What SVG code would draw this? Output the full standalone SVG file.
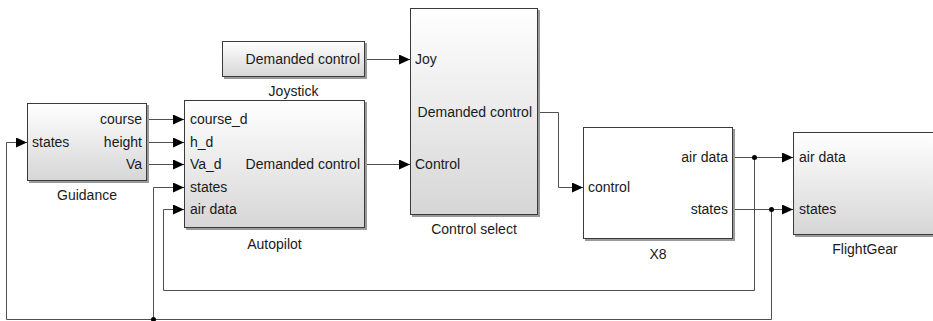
<svg xmlns="http://www.w3.org/2000/svg" width="933" height="321" viewBox="0 0 933 321">
  <defs>
    <linearGradient id="blockFill" x1="0" y1="0" x2="0" y2="1">
      <stop offset="0" stop-color="#ffffff"/>
      <stop offset="1" stop-color="#d6d6d6"/>
    </linearGradient>
    <marker id="arrow" markerUnits="userSpaceOnUse" markerWidth="11" markerHeight="10" refX="11" refY="5" orient="auto">
      <path d="M0,0 L11,5 L0,10 z" fill="#000"/>
    </marker>
  </defs>
  <style>
    .shadow { fill: #9a9a9a; }
    .block { fill: url(#blockFill); stroke: #3a3a3a; stroke-width: 1; }
    .plain { fill: #ffffff; stroke: #3a3a3a; stroke-width: 1; }
    text { font-family: "Liberation Sans", Arial, sans-serif; font-size: 14px; fill: #1a1a1a; }
    .r { text-anchor: end; }
    .c { text-anchor: middle; }
    .wire { fill: none; stroke: #505050; stroke-width: 1; }
    .arr { marker-end: url(#arrow); }
    .dot { fill: #000; }
  </style>
  <rect width="933" height="321" fill="#ffffff"/>

  <!-- signal lines -->
  <g id="connectors">
    <path class="wire arr" d="M147.5,119.5 H184"/>
    <path class="wire arr" d="M147.5,142.5 H184"/>
    <path class="wire arr" d="M147.5,164.5 H184"/>
    <path class="wire arr" d="M365.5,59.5 H410"/>
    <path class="wire arr" d="M365.5,164.5 H410"/>
    <path class="wire arr" d="M538.5,112.5 H558.5 V187.5 H583"/>
    <path class="wire arr" d="M733.5,157.5 H793"/>
    <path class="wire arr" d="M733.5,209.5 H793"/>
    <!-- air data feedback to autopilot -->
    <path class="wire arr" d="M754.5,157.5 V290.5 H163.5 V209.5 H184"/>
    <!-- states feedback to guidance and autopilot -->
    <path class="wire arr" d="M771.5,209.5 V319.5 H6.5 V142.5 H27"/>
    <path class="wire arr" d="M153.5,319.5 V187.5 H184"/>
    <circle class="dot" cx="754.5" cy="157.5" r="2.5"/>
    <circle class="dot" cx="771.5" cy="209.5" r="2.5"/>
    <circle class="dot" cx="153.5" cy="319.5" r="2.5"/>
  </g>

  <g id="guidance">
    <rect class="shadow" x="29" y="105" width="120" height="78"/>
    <rect class="block" x="27.5" y="103.5" width="119" height="77"/>
    <text x="32" y="147">states</text>
    <text class="r" x="142" y="124">course</text>
    <text class="r" x="142" y="147">height</text>
    <text class="r" x="142" y="169">Va</text>
    <text class="c" x="87" y="200">Guidance</text>
  </g>

  <g id="autopilot">
    <rect class="shadow" x="186" y="102" width="181" height="128"/>
    <rect class="block" x="184.5" y="100.5" width="180" height="127"/>
    <text x="190" y="124">course_d</text>
    <text x="190" y="147">h_d</text>
    <text x="190" y="169">Va_d</text>
    <text x="190" y="192">states</text>
    <text x="190" y="214">air data</text>
    <text class="r" x="360" y="169">Demanded control</text>
    <text class="c" x="274.5" y="249">Autopilot</text>
  </g>

  <g id="joystick">
    <rect class="shadow" x="224" y="43" width="143" height="36"/>
    <rect class="block" x="222.5" y="41.5" width="142" height="35"/>
    <text class="r" x="360" y="64">Demanded control</text>
    <text class="c" x="293.5" y="96">Joystick</text>
  </g>

  <g id="control-select">
    <rect class="shadow" x="412" y="10" width="128" height="207"/>
    <rect class="block" x="410.5" y="8.5" width="127" height="206"/>
    <text x="415" y="64">Joy</text>
    <text x="415" y="169">Control</text>
    <text class="r" x="532" y="117">Demanded control</text>
    <text class="c" x="474" y="234">Control select</text>
  </g>

  <g id="x8">
    <rect class="shadow" x="585" y="129" width="150" height="112"/>
    <rect class="plain" x="583.5" y="127.5" width="149" height="111"/>
    <text x="588" y="192">control</text>
    <text class="r" x="728" y="162">air data</text>
    <text class="r" x="728" y="214">states</text>
    <text class="c" x="658" y="259">X8</text>
  </g>

  <g id="flightgear">
    <rect class="shadow" x="795" y="134" width="145" height="103"/>
    <rect class="block" x="793.5" y="132.5" width="144" height="102"/>
    <text x="799" y="162">air data</text>
    <text x="799" y="214">states</text>
    <text class="c" x="865" y="254">FlightGear</text>
  </g>
</svg>
